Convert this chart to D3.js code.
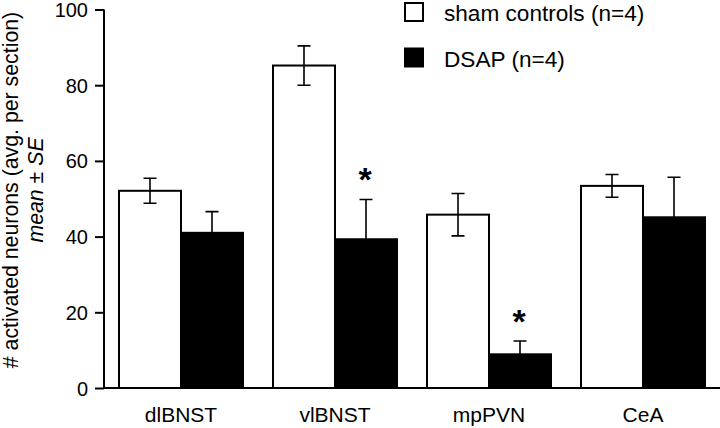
<!DOCTYPE html>
<html>
<head>
<meta charset="utf-8">
<script src="https://cdn.jsdelivr.net/npm/d3@7/dist/d3.min.js"></script>
<style>
  html, body { margin: 0; padding: 0; background: #fff; }
  svg { display: block; }
  text { font-family: "Liberation Sans", Arial, sans-serif; fill: #000; }
</style>
</head>
<body>
<svg id="chart" width="720" height="428"></svg>
<script>
const categories = ["dlBNST", "vlBNST", "mpPVN", "CeA"];
const seriesNames = ["sham controls (n=4)", "DSAP (n=4)"];
const shamMean = [52.1, 85.2, 45.8, 53.4];
const shamSE   = [3.3, 5.2, 5.6, 3.0];
const dsapMean = [41.0, 39.3, 8.9, 45.1];
const dsapSE   = [5.6, 10.5, 3.5, 10.6];
const significant = [false, true, true, false]; // DSAP vs sham
const yTicks = [0, 20, 40, 60, 80, 100];

const svg = d3.select("#chart");
const FONT = '"Liberation Sans", Arial, sans-serif';

const x = d3.scaleBand().domain(categories).range([104, 720]).padding(0);
const inner = d3.scaleBand().domain([0, 1]).range([15, x.bandwidth() - 15]).padding(0);
const y = d3.scaleLinear().domain([0, 100]).range([388, 9.5]);

// y axis
const yAxis = d3.axisLeft(y).tickValues(yTicks).tickSize(9).tickPadding(7).tickFormat(d3.format("d"));
const gy = svg.append("g").attr("transform", "translate(104,0)").call(yAxis);
gy.select(".domain").attr("stroke", "#000").attr("stroke-width", 2).attr("d", `M0,${y(100)}V${y(0)}`);
gy.selectAll(".tick line").attr("stroke", "#000").attr("stroke-width", 2);
gy.selectAll(".tick text").style("font-size", "20px").style("font-family", FONT).attr("fill", "#000").attr("dy", "0.35em");

// baseline
svg.append("line").attr("x1", 104).attr("x2", 720).attr("y1", y(0)).attr("y2", y(0))
  .attr("stroke", "#000").attr("stroke-width", 2);

// bars
const data = [];
categories.forEach((c, i) => {
  data.push({ c, s: 0, m: shamMean[i], se: shamSE[i], sig: false });
  data.push({ c, s: 1, m: dsapMean[i], se: dsapSE[i], sig: significant[i] });
});

const g = svg.append("g");
g.selectAll("rect.bar").data(data).join("rect")
  .attr("class", "bar")
  .attr("x", d => x(d.c) + inner(d.s))
  .attr("width", inner.bandwidth())
  .attr("y", d => y(d.m))
  .attr("height", d => y(0) - y(d.m))
  .attr("fill", d => d.s === 0 ? "#fff" : "#000")
  .attr("stroke", "#000")
  .attr("stroke-width", 2);

// error bars
const cap = 6.5;
const eb = g.selectAll("g.eb").data(data).join("g").attr("class", "eb")
  .attr("transform", d => `translate(${x(d.c) + inner(d.s) + inner.bandwidth() / 2},0)`);
eb.append("path")
  .attr("d", d => `M0,${y(d.m + d.se)}V${y(d.m - d.se)}M${-cap},${y(d.m + d.se)}H${cap}M${-cap},${y(d.m - d.se)}H${cap}`)
  .attr("stroke", "#000")
  .attr("stroke-width", 1.6)
  .attr("fill", "none");

// significance stars
const SF = 34;
g.selectAll("text.star").data(data.filter(d => d.sig)).join("text")
  .attr("class", "star")
  .attr("x", d => x(d.c) + inner(d.s) + inner.bandwidth() / 2 - 1)
  .attr("y", d => y(d.m + d.se) - 28 + 0.58 * SF)
  .attr("text-anchor", "middle")
  .style("font-size", SF + "px")
  .style("font-weight", "bold")
  .text("*");

// category labels
svg.selectAll("text.cat").data(categories).join("text")
  .attr("class", "cat")
  .attr("x", d => x(d) + x.bandwidth() / 2)
  .attr("y", 422)
  .attr("text-anchor", "middle")
  .style("font-size", "21px")
  .text(d => d);

// y title
const yt = svg.append("text").attr("transform", "translate(18,190) rotate(-90)")
  .attr("text-anchor", "middle").style("font-size", "21.3px");
yt.append("tspan").attr("x", 0).attr("y", 0).text("# activated neurons (avg. per section)");
const t2 = yt.append("tspan").attr("x", 0).attr("y", 25);
t2.append("tspan").style("font-style", "italic").text("mean");
t2.append("tspan").text(" ± ");
t2.append("tspan").style("font-style", "italic").text("SE");

// legend
const lg = svg.append("g");
seriesNames.forEach((name, i) => {
  const yy = 3 + i * 45.5;
  lg.append("rect").attr("x", 405).attr("y", yy).attr("width", 18).attr("height", 18)
    .attr("fill", i === 0 ? "#fff" : "#000").attr("stroke", "#000").attr("stroke-width", 2);
  lg.append("text").attr("x", 444).attr("y", yy + 18).style("font-size", "22.6px").text(name);
});
</script>
</body>
</html>
